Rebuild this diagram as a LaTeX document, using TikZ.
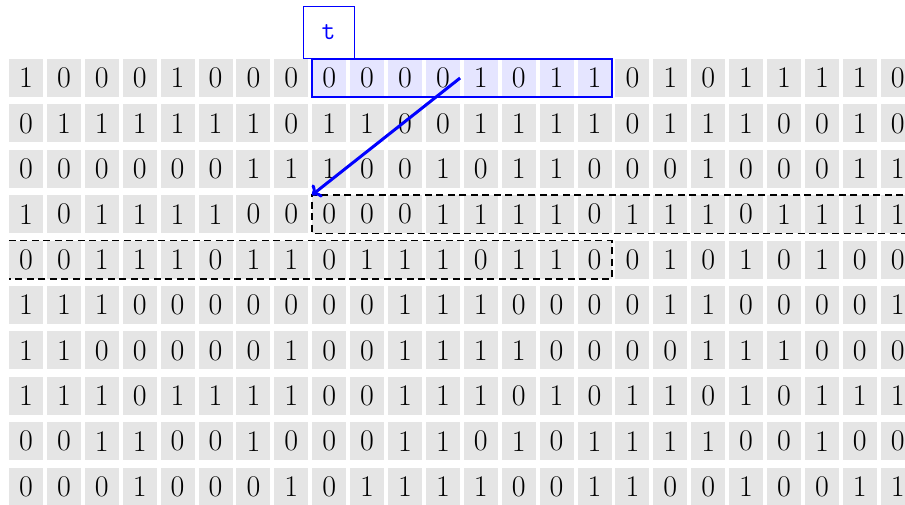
\documentclass[tikz,border=0pt]{standalone}
\usetikzlibrary{arrows.meta,fit}
\begin{document}
\begin{tikzpicture}[x=1pt,y=1pt,
  bit/.style={fill=black!10, minimum width=34pt, minimum height=38pt, inner sep=0pt, font=\fontsize{30}{32}\selectfont},
  window/.style={draw=blue, line width=1.7pt, inner sep=0pt},
  tlabel/.style={draw=blue, line width=0.8pt, text=blue, minimum width=51pt, minimum height=52pt, inner sep=0pt, font=\ttfamily\fontsize{27}{28}\selectfont},
  jump/.style={draw=blue, line width=3pt, -{To[length=8pt,width=16pt]}},
  chunk/.style={draw=black, line width=1.6pt, dash pattern=on 7pt off 4.5pt}
]
\useasboundingbox (0,0) rectangle (905,-504);
\foreach \row [count=\j from 0] in {%
 {1,0,0,0,1,0,0,0,0,0,0,0,1,0,1,1,0,1,0,1,1,1,1,0},%
 {0,1,1,1,1,1,1,0,1,1,0,0,1,1,1,1,0,1,1,1,0,0,1,0},%
 {0,0,0,0,0,0,1,1,1,0,0,1,0,1,1,0,0,0,1,0,0,0,1,1},%
 {1,0,1,1,1,1,0,0,0,0,0,1,1,1,1,0,1,1,1,0,1,1,1,1},%
 {0,0,1,1,1,0,1,1,0,1,1,1,0,1,1,0,0,1,0,1,0,1,0,0},%
 {1,1,1,0,0,0,0,0,0,0,1,1,1,0,0,0,0,1,1,0,0,0,0,1},%
 {1,1,0,0,0,0,0,1,0,0,1,1,1,1,0,0,0,0,1,1,1,0,0,0},%
 {1,1,1,0,1,1,1,1,0,0,1,1,1,0,1,0,1,1,0,1,0,1,1,1},%
 {0,0,1,1,0,0,1,0,0,0,1,1,0,1,0,1,1,1,1,0,0,1,0,0},%
 {0,0,0,1,0,0,0,1,0,1,1,1,1,0,0,1,1,0,0,1,0,0,1,1}}{%
  \foreach \b [count=\i from 0] in \row {
    \pgfmathtruncatemacro\hl{(\j==0)&&(\i>7)&&(\i<16)}
    \ifnum\hl=1 \def\cf{blue!10}\else\def\cf{black!10}\fi
    \node[bit, fill=\cf] (c-\i-\j) at ({26+37.9*\i},{-78-45.4*\j}) {\b};
  }
}
\node[window, fit=(c-8-0)(c-15-0)] (win) {};
\node[tlabel] (tl) at (328.5,-32) {t};
\draw[chunk] (c-23-3.north east) -- (c-8-3.north west) -- (c-8-3.south west) -- (c-23-3.south east);
\draw[chunk] (c-0-4.north west) -- (c-15-4.north east) -- (c-15-4.south east) -- (c-0-4.south west);
\draw[jump] (c-11-0.east) -- (c-8-3.north west);
\end{tikzpicture}
\end{document}
